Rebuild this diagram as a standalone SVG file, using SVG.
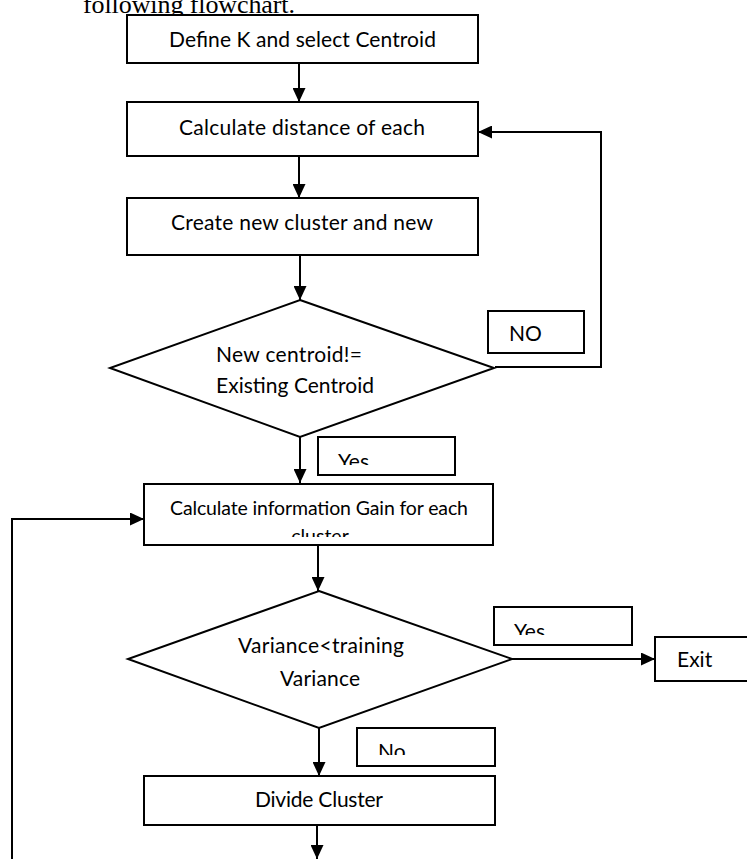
<svg xmlns="http://www.w3.org/2000/svg" width="747" height="859" viewBox="0 0 747 859">
<style>
.box{fill:#fff;stroke:#000;stroke-width:2}
.dia{fill:#fff;stroke:#000;stroke-width:2;stroke-linejoin:miter}
.ln{fill:none;stroke:#000;stroke-width:2}
.t{font-family:Lato,"Open Sans","Liberation Sans",sans-serif;font-size:21px;fill:#000}
.ts{font-family:Lato,"Open Sans","Liberation Sans",sans-serif;font-size:19.5px;fill:#000}
.serif{font-family:"Liberation Serif","Times New Roman",serif;font-size:26px;fill:#000}
</style>
<defs>
<marker id="ah" markerUnits="userSpaceOnUse" markerWidth="14" markerHeight="13" refX="14" refY="6.5" orient="auto" viewBox="0 0 14 13">
<path d="M0,0 L14,6.5 L0,13 Z" fill="#000"/>
</marker>
<clipPath id="clipYes1"><rect x="319" y="438" width="135" height="27"/></clipPath>
<clipPath id="clipYes2"><rect x="495" y="608" width="136" height="27"/></clipPath>
<clipPath id="clipNo"><rect x="358" y="729" width="136" height="26"/></clipPath>
<clipPath id="clipGain"><rect x="145" y="485" width="347" height="52"/></clipPath>
</defs>

<text class="serif" x="83" y="12.5" textLength="212">following flowchart.</text>

<g id="connectors">
<line class="ln" x1="299" y1="63" x2="299" y2="102" marker-end="url(#ah)"/>
<line class="ln" x1="299" y1="156" x2="299" y2="198" marker-end="url(#ah)"/>
<line class="ln" x1="300" y1="255" x2="300" y2="300" marker-end="url(#ah)"/>
<polyline class="ln" points="495,367 601,367 601,132 478,132" marker-end="url(#ah)"/>
<line class="ln" x1="300" y1="437" x2="300" y2="483" marker-end="url(#ah)"/>
<line class="ln" x1="318" y1="545" x2="318" y2="591" marker-end="url(#ah)"/>
<line class="ln" x1="512" y1="659" x2="655" y2="659" marker-end="url(#ah)"/>
<line class="ln" x1="319" y1="728" x2="319" y2="776" marker-end="url(#ah)"/>
<line class="ln" x1="317" y1="825" x2="317" y2="859" marker-end="url(#ah)"/>
<polyline class="ln" points="12,859 12,519 144,519" marker-end="url(#ah)"/>
</g>

<g id="n_define">
<rect class="box" x="127" y="15" width="351" height="48"/>
<text class="t" x="169" y="47" textLength="267">Define K and select Centroid</text>
</g>

<g id="n_distance">
<rect class="box" x="127" y="102" width="351" height="54"/>
<text class="t" x="179" y="135" textLength="246">Calculate distance of each</text>
</g>

<g id="n_create">
<rect class="box" x="127" y="198" width="351" height="57"/>
<text class="t" x="171" y="230" textLength="262">Create new cluster and new</text>
</g>

<g id="n_decision1">
<polygon class="dia" points="300,300 494,368 300,437 110,368"/>
<text class="t" x="216" y="362" textLength="146">New centroid!=</text>
<text class="t" x="216" y="393" textLength="158">Existing Centroid</text>
</g>

<g id="l_no1">
<rect class="box" x="488" y="311" width="96" height="42"/>
<text class="t" x="509" y="341">NO</text>
</g>

<g id="l_yes1">
<rect class="box" x="318" y="437" width="137" height="38"/>
<text class="t" x="338" y="469" clip-path="url(#clipYes1)">Yes</text>
</g>

<g id="n_gain">
<rect class="box" x="144" y="484" width="349" height="61"/>
<g clip-path="url(#clipGain)">
<text class="ts" x="170" y="515" textLength="298">Calculate information Gain for each</text>
<text class="ts" x="320" y="543" text-anchor="middle">cluster</text>
</g>
</g>

<g id="n_decision2">
<polygon class="dia" points="319,591 512,659 319,728 128,659"/>
<text class="t" x="238" y="653" textLength="166">Variance&lt;training</text>
<text class="t" x="280" y="686" textLength="80">Variance</text>
</g>

<g id="l_yes2">
<rect class="box" x="494" y="607" width="138" height="38"/>
<text class="t" x="514" y="639" clip-path="url(#clipYes2)">Yes</text>
</g>

<g id="n_exit">
<rect class="box" x="655" y="637" width="100" height="44"/>
<text class="t" x="677" y="667">Exit</text>
</g>

<g id="l_no2">
<rect class="box" x="357" y="728" width="138" height="38"/>
<text class="t" x="378" y="759" clip-path="url(#clipNo)">No</text>
</g>

<g id="n_divide">
<rect class="box" x="144" y="776" width="351" height="49"/>
<text class="t" x="255" y="807" textLength="128">Divide Cluster</text>
</g>
</svg>
